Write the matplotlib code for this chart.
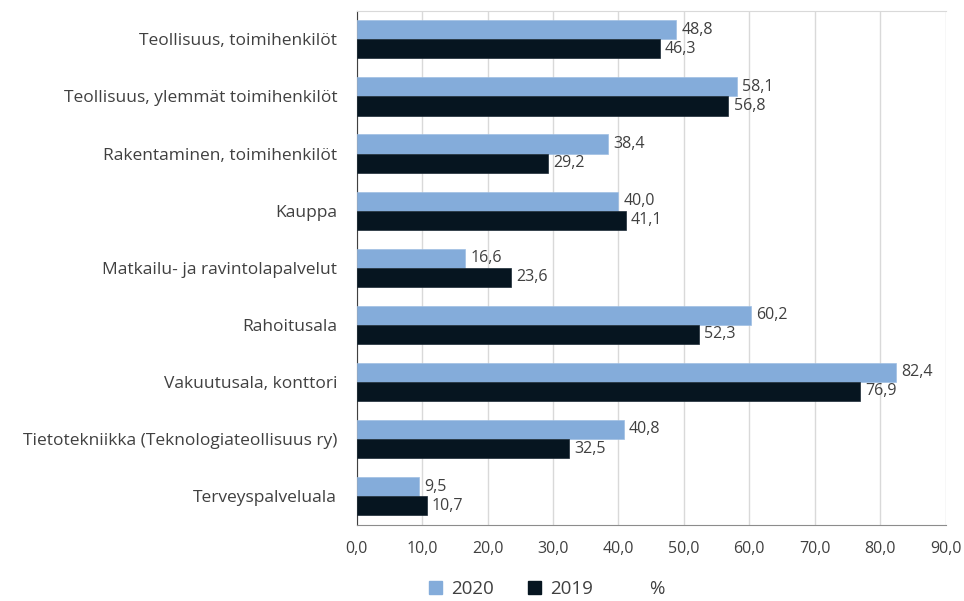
import matplotlib
matplotlib.use("Agg")
import matplotlib.pyplot as plt
import numpy as np
from matplotlib.patches import Patch

categories = ["Teollisuus, toimihenkilöt", "Teollisuus, ylemmät toimihenkilöt",
              "Rakentaminen, toimihenkilöt", "Kauppa", "Matkailu- ja ravintolapalvelut",
              "Rahoitusala", "Vakuutusala, konttori",
              "Tietotekniikka (Teknologiateollisuus ry)", "Terveyspalveluala"]
v2020 = [48.8, 58.1, 38.4, 40.0, 16.6, 60.2, 82.4, 40.8, 9.5]
v2019 = [46.3, 56.8, 29.2, 41.1, 23.6, 52.3, 76.9, 32.5, 10.7]
xticks = [0, 10, 20, 30, 40, 50, 60, 70, 80, 90]

plt.rcParams['font.family'] = ['Open Sans', 'DejaVu Sans']
txt = '#404040'
c20 = '#84acda'
c19 = '#061520'

fig = plt.figure(figsize=(9.64, 6.01), dpi=100)
ax = fig.add_axes([0.37, 0.127, 0.611, 0.855])

n = len(categories)
y = np.arange(n)
h = 0.335
ax.barh(y - h/2, v2020, height=h, color=c20, edgecolor='#9fbfe3', linewidth=0.5, zorder=3)
ax.barh(y + h/2, v2019, height=h, color=c19, edgecolor='#1c2a35', linewidth=0.5, zorder=3)
for i in range(n):
    ax.text(v2020[i] + 0.8, y[i] - h/2, f"{v2020[i]:.1f}".replace('.', ','),
            va='center', ha='left', fontsize=11.5, color=txt)
    ax.text(v2019[i] + 0.8, y[i] + h/2, f"{v2019[i]:.1f}".replace('.', ','),
            va='center', ha='left', fontsize=11.5, color=txt)

ax.set_ylim(n - 0.5, -0.5)
ax.set_xlim(0, 90)
ax.set_yticks(y)
ax.set_yticklabels(categories, fontsize=12.5, color=txt)
ax.set_xticks(xticks)
ax.set_xticklabels([f"{t:.1f}".replace('.', ',') for t in xticks], fontsize=11.5, color=txt)
ax.tick_params(axis='both', length=0)
ax.tick_params(axis='y', pad=14)
ax.tick_params(axis='x', pad=12)
ax.grid(axis='x', color='#d9d9d9', linewidth=1, zorder=0)
ax.set_axisbelow(True)
ax.spines['right'].set_visible(False)
ax.spines['top'].set_color('#d9d9d9')
ax.spines['left'].set_color('#404040')
ax.spines['bottom'].set_color('#8c8c8c')

handles = [Patch(facecolor=c20, edgecolor=c20), Patch(facecolor=c19, edgecolor=c19),
           Patch(facecolor='none', edgecolor='none')]
leg = fig.legend(handles, ['2020', '2019', '%'], loc='center', bbox_to_anchor=(0.567, 0.02),
                 ncol=3, frameon=False, fontsize=13.5, handlelength=0.7, handleheight=0.7,
                 columnspacing=1.8, handletextpad=0.5)
for t in leg.get_texts():
    t.set_color(txt)

fig.savefig('out.png', dpi=100)
